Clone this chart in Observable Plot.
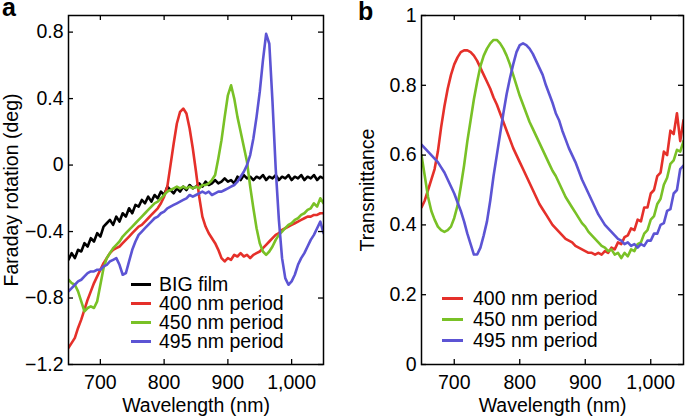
<!DOCTYPE html>
<html><head><meta charset="utf-8">
<script src="https://cdn.jsdelivr.net/npm/d3@7"></script>
<script src="https://cdn.jsdelivr.net/npm/@observablehq/plot@0.6"></script>
<style>
body{margin:0;background:#fff;}
#wrap{position:relative;width:685px;height:419px;overflow:hidden;font-family:"Liberation Sans",Arial,Helvetica,sans-serif;color:#000;}
.panel{position:absolute;top:0;}
.lab{position:absolute;font-weight:bold;font-size:25px;line-height:15px;}
.leg{position:absolute;font-size:19.5px;line-height:18px;white-space:nowrap;}
.sw{position:absolute;height:3px;}
</style></head>
<body><div id="wrap"></div>
<script>
// ---- data ----
const wavelength = [650,655,660,665,670,675,680,685,690,695,700,705,710,715,720,725,730,735,740,745,750,755,760,765,770,775,780,785,790,795,800,805,810,815,820,825,830,835,840,845,850,855,860,865,870,875,880,885,890,895,900,905,910,915,920,925,930,935,940,945,950,955,960,965,970,975,980,985,990,995,1000,1005,1010,1015,1020,1025,1030,1035,1040,1045,1050];

// Panel a: Faraday rotation (deg)
const rotBIG = [-0.57,-0.53,-0.56,-0.51,-0.52,-0.47,-0.49,-0.44,-0.46,-0.41,-0.43,-0.37,-0.35,-0.33,-0.36,-0.31,-0.34,-0.29,-0.31,-0.26,-0.29,-0.24,-0.25,-0.21,-0.23,-0.19,-0.22,-0.18,-0.20,-0.16,-0.18,-0.13,-0.15,-0.17,-0.14,-0.16,-0.13,-0.15,-0.12,-0.14,-0.13,-0.11,-0.13,-0.10,-0.12,-0.11,-0.09,-0.11,-0.10,-0.08,-0.10,-0.09,-0.11,-0.07,-0.09,-0.06,-0.08,-0.07,-0.09,-0.07,-0.08,-0.06,-0.09,-0.07,-0.08,-0.06,-0.09,-0.07,-0.08,-0.06,-0.09,-0.07,-0.08,-0.06,-0.09,-0.07,-0.08,-0.06,-0.09,-0.07,-0.08];
const rot400 = [-1.10,-1.07,-1.04,-0.98,-0.93,-0.87,-0.81,-0.76,-0.71,-0.67,-0.63,-0.59,-0.56,-0.53,-0.51,-0.50,-0.49,-0.47,-0.45,-0.43,-0.41,-0.39,-0.37,-0.36,-0.34,-0.32,-0.30,-0.28,-0.26,-0.23,-0.19,-0.13,0.00,0.13,0.25,0.32,0.34,0.31,0.22,0.10,-0.04,-0.19,-0.31,-0.37,-0.41,-0.44,-0.47,-0.51,-0.56,-0.58,-0.56,-0.57,-0.54,-0.55,-0.53,-0.55,-0.54,-0.56,-0.54,-0.53,-0.52,-0.50,-0.48,-0.46,-0.44,-0.42,-0.41,-0.39,-0.38,-0.37,-0.36,-0.35,-0.34,-0.33,-0.32,-0.31,-0.31,-0.30,-0.30,-0.29,-0.29];
const rot450 = [-0.69,-0.71,-0.72,-0.76,-0.82,-0.88,-0.86,-0.85,-0.86,-0.82,-0.72,-0.62,-0.56,-0.53,-0.50,-0.48,-0.46,-0.43,-0.41,-0.39,-0.37,-0.35,-0.33,-0.31,-0.29,-0.27,-0.25,-0.23,-0.22,-0.20,-0.18,-0.16,-0.15,-0.14,-0.13,-0.14,-0.13,-0.14,-0.13,-0.14,-0.13,-0.14,-0.12,-0.12,-0.11,-0.09,-0.06,0.04,0.15,0.29,0.42,0.48,0.40,0.29,0.20,0.11,0.02,-0.13,-0.26,-0.38,-0.47,-0.52,-0.54,-0.52,-0.49,-0.45,-0.42,-0.40,-0.38,-0.36,-0.35,-0.33,-0.32,-0.30,-0.29,-0.27,-0.26,-0.23,-0.25,-0.20,-0.23];
const rot495 = [-0.76,-0.74,-0.72,-0.70,-0.69,-0.67,-0.65,-0.64,-0.64,-0.63,-0.63,-0.61,-0.60,-0.58,-0.57,-0.56,-0.60,-0.66,-0.65,-0.58,-0.51,-0.46,-0.42,-0.40,-0.38,-0.36,-0.34,-0.32,-0.31,-0.29,-0.28,-0.26,-0.25,-0.24,-0.23,-0.22,-0.21,-0.20,-0.18,-0.19,-0.18,-0.17,-0.16,-0.17,-0.16,-0.18,-0.17,-0.16,-0.16,-0.15,-0.14,-0.13,-0.12,-0.10,-0.07,-0.04,0.00,0.06,0.16,0.29,0.44,0.63,0.79,0.73,0.38,-0.02,-0.33,-0.56,-0.68,-0.72,-0.70,-0.66,-0.60,-0.56,-0.53,-0.49,-0.45,-0.42,-0.38,-0.34,-0.41];

// Panel b: Transmittance
const tr400 = [0.45,0.47,0.50,0.53,0.56,0.61,0.68,0.74,0.79,0.83,0.86,0.88,0.895,0.90,0.90,0.895,0.885,0.87,0.85,0.83,0.81,0.79,0.765,0.745,0.72,0.695,0.67,0.645,0.62,0.60,0.58,0.56,0.54,0.52,0.50,0.48,0.46,0.445,0.43,0.415,0.40,0.39,0.38,0.37,0.36,0.355,0.35,0.34,0.335,0.33,0.325,0.32,0.32,0.315,0.32,0.315,0.325,0.32,0.335,0.33,0.35,0.345,0.365,0.37,0.39,0.385,0.415,0.41,0.45,0.45,0.49,0.50,0.54,0.55,0.61,0.60,0.67,0.66,0.72,0.64,0.70];
const tr450 = [0.60,0.54,0.48,0.44,0.415,0.395,0.385,0.38,0.385,0.395,0.42,0.455,0.51,0.57,0.64,0.70,0.76,0.81,0.855,0.885,0.905,0.92,0.93,0.93,0.92,0.905,0.885,0.86,0.83,0.80,0.77,0.745,0.72,0.695,0.675,0.655,0.635,0.615,0.595,0.575,0.555,0.54,0.52,0.50,0.48,0.465,0.45,0.435,0.42,0.405,0.395,0.38,0.37,0.36,0.35,0.34,0.335,0.325,0.33,0.315,0.32,0.305,0.32,0.31,0.33,0.325,0.345,0.35,0.375,0.385,0.415,0.425,0.46,0.475,0.515,0.535,0.575,0.585,0.615,0.61,0.64];
const tr495 = [0.63,0.62,0.61,0.60,0.59,0.58,0.565,0.55,0.53,0.51,0.49,0.465,0.44,0.41,0.375,0.345,0.315,0.315,0.335,0.37,0.41,0.47,0.54,0.60,0.66,0.72,0.775,0.82,0.86,0.895,0.915,0.92,0.915,0.905,0.89,0.87,0.85,0.83,0.80,0.775,0.75,0.72,0.70,0.67,0.645,0.62,0.60,0.58,0.555,0.53,0.51,0.49,0.47,0.45,0.43,0.415,0.40,0.39,0.38,0.37,0.36,0.355,0.345,0.35,0.34,0.345,0.335,0.345,0.34,0.355,0.355,0.375,0.375,0.40,0.405,0.44,0.445,0.49,0.50,0.56,0.57];

const seriesA = ["BIG film","400 nm period","450 nm period","495 nm period"];
const seriesB = ["400 nm period","450 nm period","495 nm period"];
const colorsA = ["#000000","#e5302a","#79c126","#5c54d4"];
const colorsB = ["#e5302a","#79c126","#5c54d4"];
const xTicks = [700,800,900,1000];
const yTicksA = [-1.2,-0.8,-0.4,0,0.4,0.8];
const yTicksB = [0,0.2,0.4,0.6,0.8,1];

// ---- build tables ----
function longTable(names, arrays){
  return names.flatMap((n,i)=>wavelength.map((w,j)=>({wl:w, v:arrays[i][j], s:n})));
}
const dataA = longTable(seriesA,[rotBIG,rot400,rot450,rot495]);
const dataB = longTable(seriesB,[tr400,tr450,tr495]);

const font = '"Liberation Sans",Arial,Helvetica,sans-serif';
const fmtX = d3.format(",");
const fmtY = d => d3.format("")(d);

const H = 419, MT = 15, MB = 55, TICK = 5;

function panel({data, series, colors, yDomain, yTicks, yLabel, width, marginLeft, marginRight, yLabelOffset}){
  const fh = H - MT - MB, fw = width - marginLeft - marginRight;
  return Plot.plot({
    width, height:H, marginLeft, marginRight, marginTop:MT, marginBottom:MB,
    style:{fontSize:"19.5px", fontFamily:font, color:"#000", background:"transparent", overflow:"visible"},
    x:{domain:[650,1050]},
    y:{domain:yDomain},
    color:{domain:series, range:colors},
    marks:[
      Plot.line(data,{x:"wl", y:"v", z:"s", stroke:"s", strokeWidth:2.6, clip:true}),
      // inward ticks on all four sides
      Plot.tickX(xTicks,{x:d=>d, insetTop:fh-TICK, stroke:"#000", strokeWidth:1.3}),
      Plot.tickX(xTicks,{x:d=>d, insetBottom:fh-TICK, stroke:"#000", strokeWidth:1.3}),
      Plot.tickY(yTicks,{y:d=>d, insetRight:fw-TICK, stroke:"#000", strokeWidth:1.3}),
      Plot.tickY(yTicks,{y:d=>d, insetLeft:fw-TICK, stroke:"#000", strokeWidth:1.3}),
      Plot.frame({stroke:"#000", strokeWidth:1.5}),
      Plot.axisX({anchor:"bottom", ticks:xTicks, tickSize:0, tickPadding:11, tickFormat:fmtX,
        label:"Wavelength (nm)", labelAnchor:"center", labelOffset:47, labelArrow:"none"}),
      Plot.axisY({anchor:"left", ticks:yTicks, tickSize:0, tickPadding:5, tickFormat:fmtY,
        label:yLabel, labelAnchor:"center", labelOffset:yLabelOffset, labelArrow:"none"})
    ]
  });
}

const wrap = document.getElementById("wrap");
function place(el, left){ const d=document.createElement("div"); d.className="panel"; d.style.left=left+"px"; d.appendChild(el); wrap.appendChild(d); }

place(panel({data:dataA, series:seriesA, colors:colorsA, yDomain:[-1.2,0.9], yTicks:yTicksA,
  yLabel:"Faraday rotation (deg)", width:340, marginLeft:68, marginRight:17, yLabelOffset:64}), 0);
place(panel({data:dataB, series:seriesB, colors:colorsB, yDomain:[0,1], yTicks:yTicksB,
  yLabel:"Transmittance", width:345, marginLeft:81, marginRight:2, yLabelOffset:61}), 340);

function label(txt, left, top){ const d=document.createElement("div"); d.className="lab"; d.textContent=txt; d.style.left=left+"px"; d.style.top=top+"px"; wrap.appendChild(d); }
label("a", 2, 0);
label("b", 358, 4);

function legend(names, colors, lineX0, lineX1, textX, y0, step){
  names.forEach((n,i)=>{
    const cy = y0 + i*step;
    const sw = document.createElement("div"); sw.className="sw";
    sw.style.left=lineX0+"px"; sw.style.width=(lineX1-lineX0)+"px"; sw.style.top=(cy-1.5)+"px"; sw.style.background=colors[i];
    wrap.appendChild(sw);
    const t = document.createElement("div"); t.className="leg"; t.textContent=n;
    t.style.left=textX+"px"; t.style.top=(cy-9)+"px";
    wrap.appendChild(t);
  });
}
legend(seriesA, colorsA, 131, 151, 159, 284, 19);
legend(seriesB, colorsB, 442, 463, 473, 298, 21);
</script>
</body></html>
